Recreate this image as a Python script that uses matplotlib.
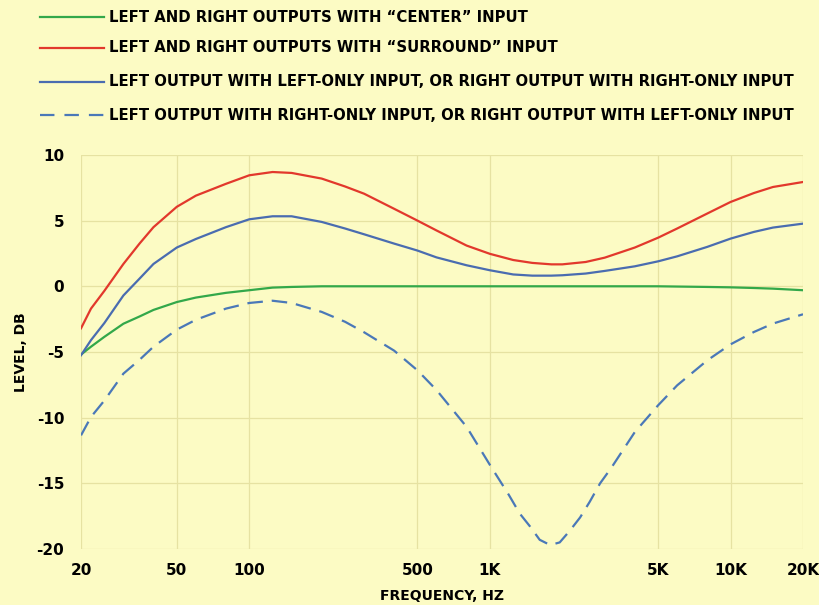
import matplotlib
matplotlib.use("Agg")
import matplotlib.pyplot as plt
from matplotlib.lines import Line2D
import numpy as np

freq = [20, 22, 25, 30, 35, 40, 50, 60, 80, 100, 125, 150, 200, 250, 300, 400, 500, 600,
        800, 1000, 1250, 1500, 1800, 2000, 2500, 3000, 4000, 5000, 6000, 8000, 10000,
        12500, 15000, 20000]

# level in dB
center = [-5.2, -4.6, -3.85, -2.85, -2.3, -1.8, -1.2, -0.86, -0.5, -0.3, -0.1, -0.05, 0.0,
          0.0, 0.0, 0.0, 0.0, 0.0, 0.0, 0.0, 0.0, 0.0, 0.0, 0.0, 0.0, 0.0, 0.0, 0.0, -0.02,
          -0.05, -0.08, -0.13, -0.18, -0.3]
surround = [-3.2, -1.7, -0.35, 1.7, 3.25, 4.5, 6.05, 6.9, 7.8, 8.45, 8.7, 8.63, 8.2, 7.6,
            7.05, 5.9, 5.0, 4.25, 3.1, 2.47, 2.0, 1.78, 1.67, 1.67, 1.85, 2.18, 2.95, 3.7,
            4.4, 5.54, 6.42, 7.1, 7.56, 7.94]
same_side = [-5.25, -4.1, -2.8, -0.7, 0.58, 1.7, 2.95, 3.6, 4.5, 5.1, 5.33, 5.33, 4.9, 4.4,
             3.96, 3.25, 2.72, 2.2, 1.6, 1.22, 0.9, 0.81, 0.81, 0.84, 0.97, 1.17, 1.52, 1.9,
             2.28, 3.0, 3.63, 4.14, 4.47, 4.77]

# dashed curve, read more densely around the notch
opp_freq = [20, 22, 25, 30, 35, 40, 50, 60, 80, 100, 125, 150, 200, 250, 300, 400, 500,
            600, 800, 1000, 1200, 1330, 1470, 1610, 1780, 1950, 2150, 2370, 2600, 2870,
            3200, 4000, 5000, 6000, 8000, 10000, 12500, 15000, 20000]
opposite = [-11.35, -9.95, -8.7, -6.65, -5.6, -4.6, -3.3, -2.55, -1.7, -1.27, -1.1, -1.27,
            -1.95, -2.7, -3.5, -4.9, -6.4, -7.9, -10.7, -13.6, -15.9, -17.3, -18.3, -19.3,
            -19.7, -19.5, -18.6, -17.6, -16.4, -15.0, -13.8, -11.1, -9.06, -7.54, -5.64,
            -4.42, -3.48, -2.84, -2.13]

xticks = [20, 50, 100, 500, 1000, 5000, 10000, 20000]
xlabels = ["20", "50", "100", "500", "1K", "5K", "10K", "20K"]
yticks = [10, 5, 0, -5, -10, -15, -20]
ylabels = ["10", "5", "0", "-5", "-10", "-15", "-20"]

legend_text = [
    "LEFT AND RIGHT OUTPUTS WITH \u201cCENTER\u201d INPUT",
    "LEFT AND RIGHT OUTPUTS WITH \u201cSURROUND\u201d INPUT",
    "LEFT OUTPUT WITH LEFT-ONLY INPUT, OR RIGHT OUTPUT WITH RIGHT-ONLY INPUT",
    "LEFT OUTPUT WITH RIGHT-ONLY INPUT, OR RIGHT OUTPUT WITH LEFT-ONLY INPUT",
]

bg = "#fcfbc4"
grid_c = "#e6e2a2"
green = "#33a84a"
red = "#e2382c"
blue = "#4a6cb0"
dblue = "#4a78b8"

plt.rcParams['font.family'] = ['DejaVu Sans']

fig = plt.figure(figsize=(8.2, 6.05), dpi=100, facecolor=bg)
ax = fig.add_axes([0.0988, 0.0926, 0.8805, 0.6513])
ax.set_facecolor(bg)

ax.plot(freq, center, color=green, lw=1.6)
ax.plot(freq, surround, color=red, lw=1.6)
ax.plot(freq, same_side, color=blue, lw=1.6)
ax.plot(opp_freq, opposite, color=dblue, lw=1.6, dashes=(7, 4))

ax.set_xscale("log")
ax.set_xlim(20, 20000)
ax.set_ylim(-20, 10)
ax.set_xticks(xticks)
ax.set_xticklabels(xlabels, fontsize=11, fontweight="bold")
ax.minorticks_off()
ax.set_yticks(yticks)
ax.set_yticklabels(ylabels, fontsize=11, fontweight="bold")
ax.tick_params(length=0, pad=12)
ax.tick_params(axis="x", pad=10)
ax.grid(True, color=grid_c, lw=0.9)
ax.set_axisbelow(True)
for s in ax.spines.values():
    s.set_visible(False)

fig.text(442 / 820, 1 - 596 / 605, "FREQUENCY, HZ", fontsize=10, fontweight="bold",
         ha="center", va="center")
fig.text(21 / 820, 1 - 352 / 605, "LEVEL, DB", fontsize=10, fontweight="bold",
         ha="center", va="center", rotation=90)

# legend drawn by hand above the plot
rows = [17, 48, 82, 115]
styles = [(green, "-"), (red, "-"), (blue, "-"), (dblue, "--")]
for ypx, (c, ls), txt in zip(rows, styles, legend_text):
    yf = 1 - ypx / 605
    ln = Line2D([40 / 820, 104 / 820], [yf, yf], transform=fig.transFigure,
                color=c, lw=1.6)
    if ls == "--":
        ln.set_dashes((6.5, 4.5))
    fig.add_artist(ln)
    fig.text(109 / 820, yf, txt, fontsize=10.7, fontweight="bold", va="center", ha="left")

fig.savefig("out.png", dpi=100, facecolor=bg)
